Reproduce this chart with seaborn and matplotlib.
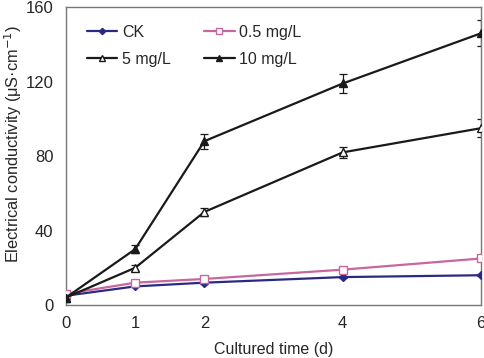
import pandas as pd
import seaborn as sns
import matplotlib.pyplot as plt

# === dane ===
days = [0, 1, 2, 4, 6]
ck = [5, 10, 12, 15, 16]
c05 = [6, 12, 14, 19, 25]
c5 = [4, 20, 50, 82, 95]
c10 = [4, 30, 88, 119, 146]
err_ck = [0.5, 0.5, 0.5, 0.5, 0.5]
err_c05 = [0.5, 0.8, 0.8, 1.0, 1.0]
err_c5 = [0.5, 1.5, 2.0, 3.0, 5.0]
err_c10 = [0.5, 2.0, 4.0, 5.0, 7.0]
labels = ["CK", "0.5 mg/L", "5 mg/L", "10 mg/L"]

series = [ck, c05, c5, c10]
errs = [err_ck, err_c05, err_c5, err_c10]

sns.set_style("white")
plt.rcParams['font.family'] = ['Liberation Sans', 'DejaVu Sans']

styles = {
    "CK": dict(color="#2a2a85", marker="D", markersize=4, mfc="#2a2a85", mec="#2a2a85"),
    "0.5 mg/L": dict(color="#c8669e", marker="s", markersize=6, mfc="white", mec="#c8669e"),
    "5 mg/L": dict(color="#1a1a1a", marker="^", markersize=6, mfc="white", mec="#1a1a1a"),
    "10 mg/L": dict(color="#1a1a1a", marker="^", markersize=6, mfc="#1a1a1a", mec="#1a1a1a"),
}

fig = plt.figure(figsize=(4.85, 3.58), dpi=100)
ax = fig.add_axes([0.136, 0.148, 0.856, 0.832])

for lab, vals, e in zip(labels, series, errs):
    st = styles[lab]
    df = pd.DataFrame({"day": days, "ec": vals})
    ax.errorbar(days, vals, yerr=e, fmt="none", ecolor=st["color"],
                elinewidth=0.9, capsize=3, capthick=0.9, zorder=2)
    sns.lineplot(data=df, x="day", y="ec", ax=ax, label=lab,
                 color=st["color"], linewidth=1.6, marker=st["marker"],
                 markersize=st["markersize"], markerfacecolor=st["mfc"],
                 markeredgecolor=st["mec"], markeredgewidth=1.0, zorder=3)

ax.set_xlim(0, 6)
ax.set_ylim(0, 160)
ax.set_xticks([0, 1, 2, 4, 6])
ax.set_yticks([0, 40, 80, 120, 160])
ax.tick_params(axis="y", labelsize=12, length=3, direction="in", color="#777777", pad=9)
ax.tick_params(axis="x", labelsize=12, length=3, direction="in", color="#777777", pad=8)
for s in ax.spines.values():
    s.set_color("#777777")
    s.set_linewidth(1.0)
ax.set_xlabel("Cultured time (d)", fontsize=11.5, labelpad=8)
ax.set_ylabel("Electrical conductivity (μS·cm$^{-1}$)", fontsize=11.8)
ax.yaxis.set_label_coords(-0.1, 0.54)

# legenda wierszami: CK, 0.5 / 5, 10
h, l = ax.get_legend_handles_labels()
order = [0, 2, 1, 3]
ax.legend([h[i] for i in order], [l[i] for i in order], ncol=2, frameon=False,
          loc="upper left", bbox_to_anchor=(0.05, 0.94), fontsize=11.5,
          handlelength=1.9, columnspacing=2.1, borderaxespad=0, borderpad=0,
          handletextpad=0.3, labelspacing=0.75, markerscale=0.8)

plt.savefig("out.png", dpi=100)
